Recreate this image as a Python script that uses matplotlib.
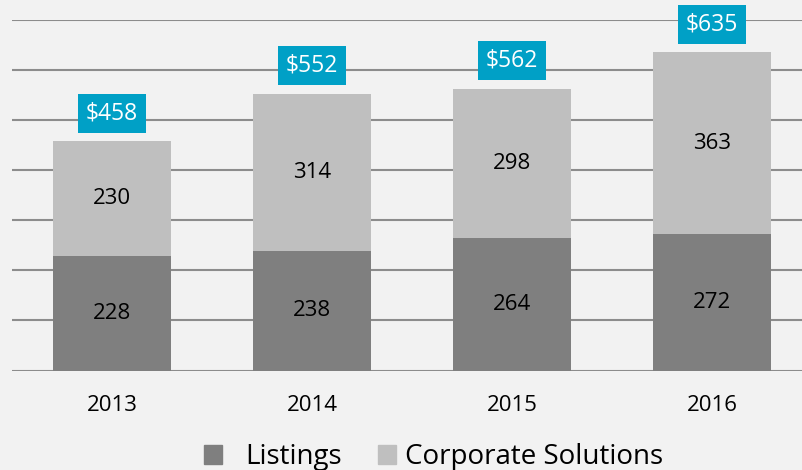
import matplotlib
matplotlib.use("Agg")
import matplotlib.pyplot as plt
from matplotlib.patches import Patch
import numpy as np

years = ["2013", "2014", "2015", "2016"]
listings = [228, 238, 264, 272]
corporate = [230, 314, 298, 363]
totals = [458, 552, 562, 635]
series_names = ["Listings", "Corporate Solutions"]

BG = "#f2f2f2"
DARK = "#7f7f7f"
LIGHT = "#bfbfbf"
TEAL = "#00a0c6"
GRID = "#8c8c8c"

plt.rcParams["font.family"] = ["Open Sans", "DejaVu Sans"]

fig = plt.figure(figsize=(8.03, 4.70), dpi=100, facecolor=BG)
ax = fig.add_axes([12/803, (470-370.5)/470, 800/803, 351/470])
ax.set_facecolor(BG)

x = np.arange(len(years))
w = 0.59
b1 = ax.bar(x, listings, w, color=DARK, zorder=3)
b2 = ax.bar(x, corporate, w, bottom=listings, color=LIGHT, zorder=3)

for i in range(len(years)):
    ax.text(x[i], listings[i] / 2, str(listings[i]), ha="center", va="center",
            fontsize=16, color="black", zorder=4)
    ax.text(x[i], listings[i] + corporate[i] / 2, str(corporate[i]), ha="center",
            va="center", fontsize=16, color="black", zorder=4)
    ax.annotate(f"${totals[i]}", (x[i], totals[i]), xytext=(0, 20),
                textcoords="offset points", ha="center", va="center",
                fontsize=16.5, color="white", zorder=5,
                bbox=dict(boxstyle="square,pad=0.33", fc=TEAL, ec="none"))

ax.set_xlim(-0.5, len(years) - 0.5)
ax.set_ylim(0, 700)
ax.set_yticks(np.arange(0, 701, 100))
ax.yaxis.grid(True, color=GRID, linewidth=1.5, zorder=0)
ax.set_axisbelow(True)
ax.tick_params(axis="y", left=False, labelleft=False)
ax.tick_params(axis="x", bottom=False, labelsize=16, pad=14)
ax.set_xticks(x)
ax.set_xticklabels(years)
for s in ax.spines.values():
    s.set_visible(False)

colors = [DARK, LIGHT]
anchors = [204/803, 378/803]
textpads = [0.83, 0.32]
for name, col, ax_x, tp in zip(series_names, colors, anchors, textpads):
    fig.legend([Patch(color=col)], [name], loc="center left",
               bbox_to_anchor=(ax_x, 0.027), frameon=False, fontsize=20,
               handlelength=0.65, handleheight=0.65, handletextpad=tp,
               borderaxespad=0, borderpad=0)

fig.savefig("out.png", dpi=100, facecolor=BG)
